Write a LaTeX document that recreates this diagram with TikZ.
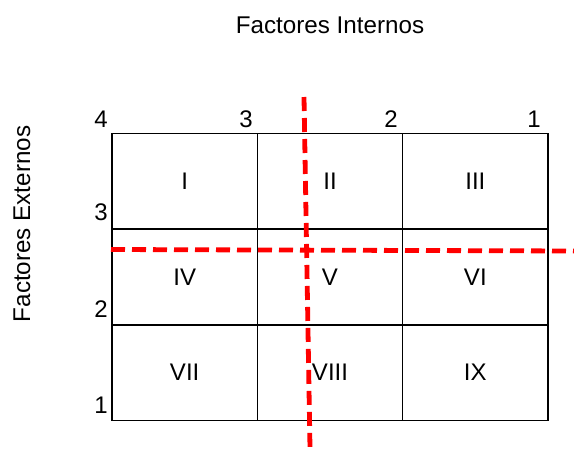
\documentclass[tikz,border=0pt]{standalone}
\usepackage{fontspec}
\setmainfont{Liberation Sans}
\tikzset{
  cell/.style={draw=black, line width=1.6pt, minimum width=145.33pt, minimum height=95.67pt, inner sep=0pt, font=\fontsize{24}{28}\selectfont},
  axistitle/.style={inner sep=0pt, font=\fontsize{24.2}{28}\selectfont},
  digit/.style={inner sep=0pt, font=\fontsize{24}{28}\selectfont},
  redline/.style={draw={rgb,255:red,255;green,0;blue,0}, line width=4.8pt, dash pattern=on 14pt off 7pt}
}
\begin{document}
\begin{tikzpicture}[x=1pt,y=1pt]
\useasboundingbox[fill=white] (0,0) rectangle (574,-448);
% cells
\node[cell] (c1) at (184.67,-181.33) {I};
\node[cell] (c2) at (330,-181.33) {II};
\node[cell] (c3) at (475.33,-181.33) {III};
\node[cell] (c4) at (184.67,-277) {IV};
\node[cell] (c5) at (330,-277) {V};
\node[cell] (c6) at (475.33,-277) {VI};
\node[cell] (c7) at (184.67,-372.67) {VII};
\node[cell] (c8) at (330,-372.67) {VIII};
\node[cell] (c9) at (475.33,-372.67) {IX};
% titles
\node[axistitle] (ti) at (330,-25) {Factores Internos};
\node[axistitle, rotate=90] (te) at (22,-224) {Factores Externos};
% top scale
\node[digit, anchor=south east] (t4) at (108,-128) {4};
\node[digit, anchor=south east] (t3) at (253,-128) {3};
\node[digit, anchor=south east] (t2) at (398,-128) {2};
\node[digit, anchor=south east] (t1) at (541,-128) {1};
% left scale
\node[digit, anchor=south east] (l3) at (108,-221) {3};
\node[digit, anchor=south east] (l2) at (108,-318) {2};
\node[digit, anchor=south east] (l1) at (108,-414) {1};
% red dividing lines
\coordinate (vt) at (304,-97);
\coordinate (vb) at (310,-448);
\coordinate (hl) at (111,-249.5);
\coordinate (hr) at (574,-251);
\draw[redline] (vt) -- (vb);
\draw[redline] (hl) -- (hr);
\end{tikzpicture}
\end{document}
